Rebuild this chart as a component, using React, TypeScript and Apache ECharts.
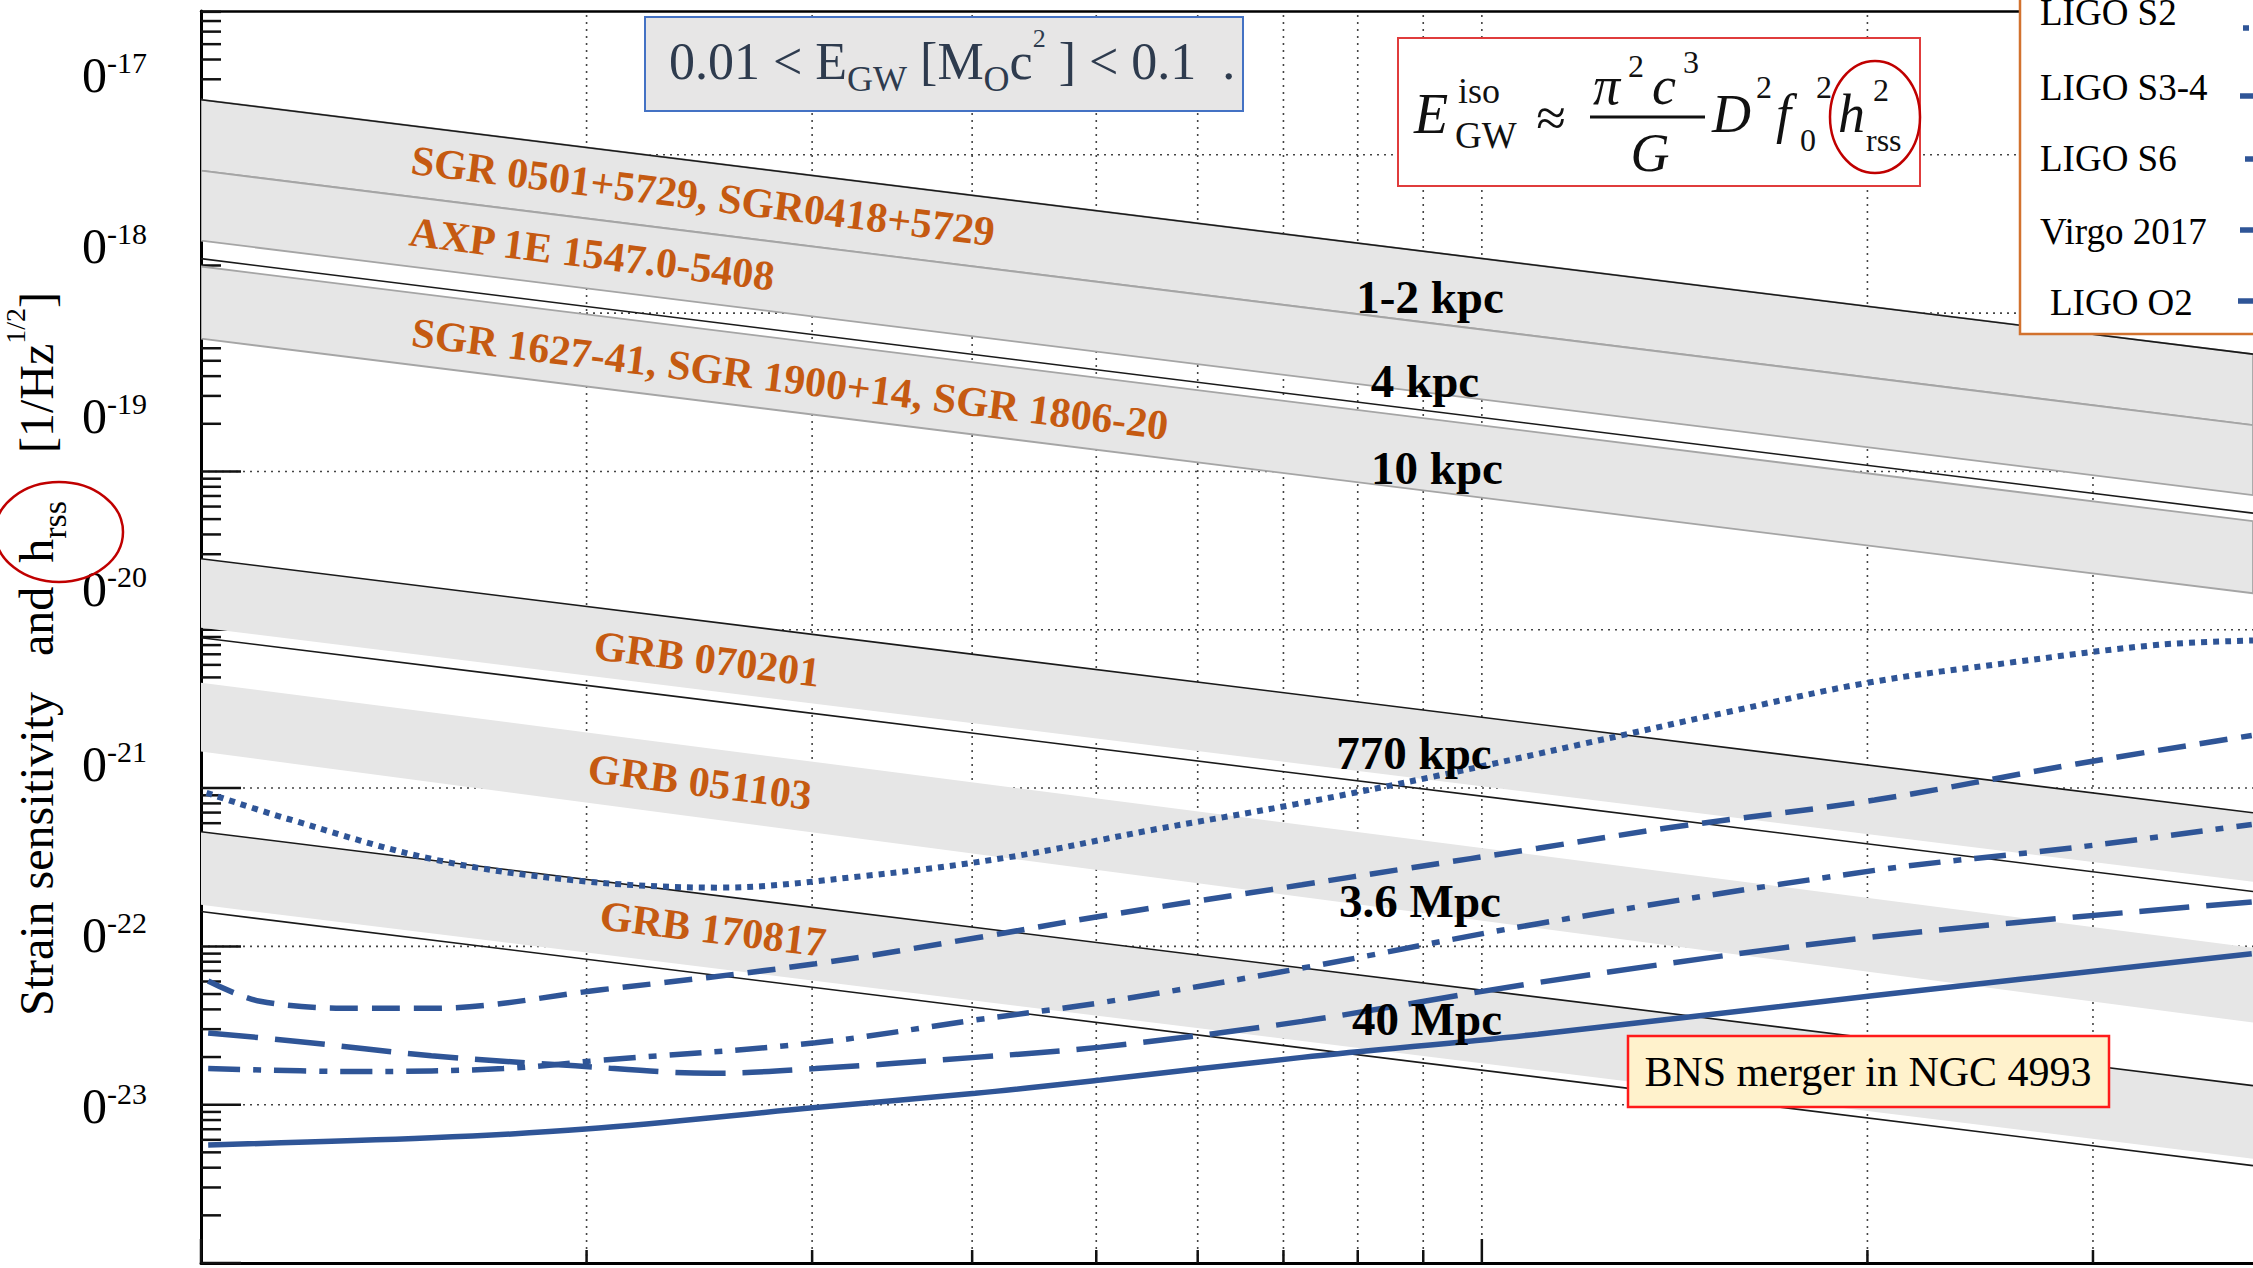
import React, { useEffect, useRef } from "react";
import * as echarts from "echarts";

const WIDTH = 2253;
const HEIGHT = 1268;
const FONT = '"Liberation Serif", "Times New Roman", Times, serif';

// axis extents (frequency in Hz, strain)
const F_MIN = 100;
const F_MAX = 4000;
const H_MIN = 1e-24;
const H_MAX = 8.1e-17;

// tick values
const xTickValues = [100, 200, 300, 400, 500, 600, 700, 800, 900, 1000, 2000, 3000];
const yDecadeExponents = [-24, -23, -22, -21, -20, -19, -18, -17];
const yMinorMultipliers = [1, 2, 3, 4, 5, 6, 7, 8, 9];
const yTickExponentLabels = ["-17", "-18", "-19", "-20", "-21", "-22", "-23"];

// detector sensitivity curves: [frequency Hz, strain]
const ligoS2 = [
  [101, 9.33e-22], [116.8, 6.4e-22], [151.3, 3.57e-22], [196, 2.61e-22], [253.9, 2.35e-22],
  [328.8, 2.78e-22], [425.8, 3.64e-22], [551.4, 5.42e-22], [714.4, 7.89e-22], [925.3, 1.2e-21],
  [1198.6, 1.9e-21], [1552.4, 3.01e-21], [2011, 4.66e-21], [2604, 6.25e-21], [3374, 8.03e-21],
  [4000, 8.55e-21],
];
const ligoS34 = [
  [101.3, 6.04e-23], [111.2, 4.5e-23], [133, 4.06e-23], [151.3, 4.06e-23], [205.3, 5.32e-23],
  [301.8, 7.76e-23], [402.3, 1.13e-22], [503.9, 1.55e-22], [723.7, 2.45e-22], [867.6, 3.08e-22],
  [1106, 4.17e-22], [1407.5, 5.65e-22], [2026, 8.4e-22], [2911, 1.42e-21], [3991, 2.15e-21],
];
const ligoS6 = [
  [101.3, 1.69e-23], [133, 1.62e-23], [172.2, 1.69e-23], [205.3, 1.91e-23], [301.8, 2.46e-23],
  [402.3, 3.43e-23], [503.9, 4.41e-23], [723.7, 7.29e-23], [1106, 1.39e-22], [2026, 3.02e-22],
  [2911, 4.22e-22], [3991, 5.89e-22],
];
const virgo2017 = [
  [101.3, 2.84e-23], [119, 2.51e-23], [151.3, 2.04e-23], [196, 1.76e-23], [250.6, 1.58e-23],
  [301.8, 1.69e-23], [402.3, 1.99e-23], [503.9, 2.31e-23], [723.7, 3.36e-23], [1106, 5.91e-23],
  [2026, 1.15e-22], [3991, 1.91e-22],
];
const ligoO2 = [
  [101.3, 5.57e-24], [151.3, 6.18e-24], [199.6, 7.01e-24], [301.8, 9.59e-24], [402.3, 1.18e-23],
  [503.9, 1.43e-23], [723.7, 1.99e-23], [1106, 2.79e-23], [2026, 4.9e-23], [3991, 8.98e-23],
];
const legendNames = ["LIGO S2", "LIGO S3-4", "LIGO S6", "Virgo 2017", "LIGO O2"];

// h ~ 1/f distance lines: [h at F_MIN, h at F_MAX]
const distanceLines = [
  [2.23e-17, 5.51e-19],
  [2.21e-18, 5.45e-20],
  [2.81e-20, 6.99e-22],
  [8.91e-21, 2.22e-22],
  [5.3e-22, 1.32e-23],
  [1.66e-22, 4.12e-24],
];
// source bands: [top at F_MIN, bottom at F_MIN, top at F_MAX, bottom at F_MAX]
const outlinedBands = [
  [2.23e-17, 7.94e-18, 5.51e-19, 1.96e-19],
  [7.94e-18, 2.87e-18, 1.96e-19, 7.09e-20],
  [1.97e-18, 6.9e-19, 4.85e-20, 1.7e-20],
];
const plainBands = [
  [2.81e-20, 1.03e-20, 6.99e-22, 2.56e-22],
  [4.63e-21, 1.7e-21, 9.81e-23, 3.3e-23],
  [5.3e-22, 1.83e-22, 1.32e-23, 4.56e-24],
];
const sourceLabels = [
  "SGR 0501+5729, SGR0418+5729",
  "AXP 1E 1547.0-5408",
  "SGR 1627-41, SGR 1900+14, SGR 1806-20",
  "GRB 070201",
  "GRB 051103",
  "GRB 170817",
];
const distanceLabels = ["1-2 kpc", "4 kpc", "10 kpc", "770 kpc", "3.6 Mpc", "40 Mpc"];

// ---------- layout (pixels) ----------
const sourceLabelPos = [[703, 196], [592, 254], [790, 379], [707, 659], [700, 782], [713, 929]];
const distanceLabelPos = [[1430, 297], [1425, 381], [1437, 468], [1414, 753], [1420, 901], [1427, 1019]];
const yLabelY = [75, 246, 416, 589, 764, 935, 1106];
const legendTextX = [2040, 2040, 2040, 2040, 2050];
const legendTextY = [12, 87, 158, 231, 302];
const legendSampleX = [2243, 2240, 2245, 2240, 2238];
const legendSampleY = [28, 96, 159, 230, 301];

const CURVE_COLOR = "#2F5597";
const ORANGE = "#C55A11";
const curveDashes: any[] = [[6, 6], [28, 14], [32, 13, 8, 13], [50, 17], "solid"];
const curveData = [ligoS2, ligoS34, ligoS6, virgo2017, ligoO2];

function txt(text: string, x: number, y: number, size: number, o: any = {}) {
  return {
    type: "text",
    x,
    y,
    z: 100,
    silent: true,
    rotation: o.rot || 0,
    style: {
      text,
      fontSize: size,
      fontFamily: FONT,
      fontWeight: o.weight || "normal",
      fontStyle: o.fstyle || "normal",
      fill: o.fill || "#000",
      align: o.align || "left",
      verticalAlign: o.va || "middle",
      lineHeight: o.lh,
      rich: o.rich,
    },
  };
}

function buildOption() {
  const yTicks: number[][] = [];
  yDecadeExponents.forEach((n) => {
    yMinorMultipliers.forEach((k) => {
      const v = k * Math.pow(10, n);
      if (v <= H_MAX * 1.0001) yTicks.push([F_MIN, v, k === 1 ? 1 : 0]);
    });
  });

  const bandSeries = (name: string, bands: number[][], outlined: boolean) => ({
    type: "custom",
    name,
    z: 2,
    silent: true,
    coordinateSystem: "cartesian2d",
    clip: true,
    data: bands.map((b) => [F_MIN, b[0], b[1], F_MAX, b[2], b[3]]),
    encode: { x: [0, 3], y: [1, 2, 4, 5] },
    renderItem: (params: any, api: any) => {
      const p1 = api.coord([api.value(0), api.value(1)]);
      const p2 = api.coord([api.value(3), api.value(4)]);
      const p3 = api.coord([api.value(3), api.value(5)]);
      const p4 = api.coord([api.value(0), api.value(2)]);
      return {
        type: "polygon",
        shape: { points: [p1, p2, p3, p4] },
        style: {
          fill: "#E6E6E6",
          stroke: outlined ? "#A5A5A5" : null,
          lineWidth: outlined ? 1.8 : 0,
        },
      };
    },
  });

  const series: any[] = [
    {
      type: "custom",
      name: "xgrid",
      z: 1,
      silent: true,
      coordinateSystem: "cartesian2d",
      clip: false,
      data: xTickValues.map((v) => [v, H_MIN]),
      encode: { x: 0, y: 1 },
      renderItem: (params: any, api: any) => {
        const v = api.value(0);
        const p = api.coord([v, H_MIN]);
        const cs = params.coordSys;
        const bottom = cs.y + cs.height;
        const lg = Math.log10(v);
        const major = Math.abs(lg - Math.round(lg)) < 1e-9;
        const children: any[] = [];
        if (v > F_MIN) {
          children.push({
            type: "line",
            shape: { x1: p[0], y1: bottom, x2: p[0], y2: cs.y },
            style: { stroke: "#444", lineWidth: 1.6, lineDash: [2, 5] },
          });
        }
        children.push({
          type: "line",
          shape: { x1: p[0], y1: bottom, x2: p[0], y2: bottom - (major ? 24 : 13) },
          style: { stroke: "#111", lineWidth: 2.5 },
        });
        return { type: "group", children };
      },
    },
    {
      type: "custom",
      name: "ygrid",
      z: 1,
      silent: true,
      coordinateSystem: "cartesian2d",
      clip: false,
      data: yTicks,
      encode: { x: 0, y: 1 },
      renderItem: (params: any, api: any) => {
        const v = api.value(1);
        const major = api.value(2) === 1;
        const p = api.coord([F_MIN, v]);
        const cs = params.coordSys;
        const children: any[] = [];
        if (major && v > H_MIN * 1.5) {
          children.push({
            type: "line",
            shape: { x1: cs.x, y1: p[1], x2: cs.x + cs.width, y2: p[1] },
            style: { stroke: "#444", lineWidth: 1.6, lineDash: [2, 5] },
          });
        }
        children.push({
          type: "line",
          shape: { x1: cs.x, y1: p[1], x2: cs.x + (major ? 40 : 20), y2: p[1] },
          style: { stroke: "#111", lineWidth: 2.5 },
        });
        return { type: "group", children };
      },
    },
    bandSeries("outlinedBands", outlinedBands, true),
    bandSeries("plainBands", plainBands, false),
  ];

  distanceLines.forEach((l, i) => {
    series.push({
      type: "line",
      name: "distance" + i,
      z: 3,
      silent: true,
      symbol: "none",
      showSymbol: false,
      data: [[F_MIN, l[0]], [F_MAX, l[1]]],
      lineStyle: { color: "#1A1A1A", width: 1.6 },
    });
  });

  curveData.forEach((d, i) => {
    series.push({
      type: "line",
      name: legendNames[i],
      z: 4,
      silent: true,
      symbol: "none",
      showSymbol: false,
      smooth: 0.35,
      data: d,
      lineStyle: { color: CURVE_COLOR, width: i === 0 ? 6 : 5.5, type: curveDashes[i], cap: "butt" },
    });
  });

  const g: any[] = [];
  // energy box
  g.push({
    type: "rect",
    z: 100,
    silent: true,
    shape: { x: 645, y: 17, width: 598, height: 94 },
    style: { fill: "#E7E6E6", stroke: "#4472C4", lineWidth: 2 },
  });
  g.push(
    txt("0.01 < E{sub|GW} [M{sub|O}c{sup|2} ] < 0.1  .", 669, 61, 52, {
      fill: "#2E3B4E",
      lh: 72,
      rich: {
        sub: { fontSize: 36, fontFamily: FONT, fill: "#2E3B4E", verticalAlign: "bottom", lineHeight: 36 },
        sup: { fontSize: 26, fontFamily: FONT, fill: "#2E3B4E", verticalAlign: "top", lineHeight: 54 },
      },
    })
  );
  // formula box
  g.push({
    type: "rect",
    z: 100,
    silent: true,
    shape: { x: 1398, y: 38, width: 522, height: 148 },
    style: { fill: "#fff", stroke: "#E03C3C", lineWidth: 2 },
  });
  const fc = "#111";
  g.push(txt("E", 1414, 114, 56, { fstyle: "italic", fill: fc }));
  g.push(txt("iso", 1458, 91, 36, { fill: fc }));
  g.push(txt("GW", 1455, 135, 37, { fill: fc }));
  g.push(txt("\u2248", 1551, 118, 54, { align: "center", fill: fc }));
  g.push(txt("\u03c0", 1593, 86, 54, { fstyle: "italic", fill: fc }));
  g.push(txt("2", 1628, 66, 32, { fill: fc }));
  g.push(txt("c", 1652, 86, 54, { fstyle: "italic", fill: fc }));
  g.push(txt("3", 1683, 62, 32, { fill: fc }));
  g.push({
    type: "line",
    z: 100,
    silent: true,
    shape: { x1: 1590, y1: 117, x2: 1705, y2: 117 },
    style: { stroke: fc, lineWidth: 3 },
  });
  g.push(txt("G", 1650, 153, 54, { fstyle: "italic", align: "center", fill: fc }));
  g.push(txt("D", 1712, 114, 54, { fstyle: "italic", fill: fc }));
  g.push(txt("2", 1756, 87, 32, { fill: fc }));
  g.push(txt("f", 1776, 114, 54, { fstyle: "italic", fill: fc }));
  g.push(txt("0", 1800, 140, 32, { fill: fc }));
  g.push(txt("2", 1816, 87, 32, { fill: fc }));
  g.push(txt("h", 1838, 114, 54, { fstyle: "italic", fill: fc }));
  g.push(txt("2", 1873, 90, 32, { fill: fc }));
  g.push(txt("rss", 1866, 140, 32, { fill: fc }));
  g.push({
    type: "ellipse",
    z: 101,
    silent: true,
    shape: { cx: 1875, cy: 117, rx: 45, ry: 56 },
    style: { fill: null, stroke: "#C00000", lineWidth: 2.5 },
  });

  // legend (cropped)
  g.push({
    type: "rect",
    z: 100,
    silent: true,
    shape: { x: 2020, y: -10, width: 260, height: 344 },
    style: { fill: "#fff", stroke: "#D2722E", lineWidth: 2.5 },
  });
  legendNames.forEach((n, i) => {
    g.push(txt(n, legendTextX[i], legendTextY[i], 37));
    g.push({
      type: "line",
      z: 101,
      silent: true,
      shape: { x1: legendSampleX[i], y1: legendSampleY[i], x2: legendSampleX[i] + 70, y2: legendSampleY[i] },
      style: {
        stroke: CURVE_COLOR,
        lineWidth: 5.5,
        lineDash: curveDashes[i] === "solid" ? null : curveDashes[i],
      },
    });
  });

  // BNS box
  g.push({
    type: "rect",
    z: 100,
    silent: true,
    shape: { x: 1628, y: 1036, width: 481, height: 71 },
    style: { fill: "#FFF2CC", stroke: "#FF1A1A", lineWidth: 2.5 },
  });
  g.push(txt("BNS merger in NGC 4993", 1868, 1072, 42, { align: "center" }));

  // y axis title
  g.push(
    txt("Strain sensitivity   and  h{sub|rss}    [1/Hz{sup|1/2}]", 36, 654, 48, {
      rot: Math.PI / 2,
      align: "center",
      lh: 70,
      rich: {
        sub: { fontSize: 34, fontFamily: FONT, verticalAlign: "bottom", lineHeight: 34, fill: "#000" },
        sup: { fontSize: 28, fontFamily: FONT, verticalAlign: "top", lineHeight: 63, fill: "#000" },
      },
    })
  );
  g.push({
    type: "ellipse",
    z: 101,
    silent: true,
    shape: { cx: 59, cy: 532, rx: 64, ry: 50 },
    style: { fill: null, stroke: "#C00000", lineWidth: 2.5 },
  });

  // y tick labels (cropped "10^-n")
  yTickExponentLabels.forEach((e, i) => {
    g.push(
      txt("0{s|" + e + "}", 82, yLabelY[i], 50, {
        lh: 56,
        rich: { s: { fontSize: 30, fontFamily: FONT, verticalAlign: "top", lineHeight: 30, fill: "#000" } },
      })
    );
  });

  // source labels
  sourceLabels.forEach((s, i) => {
    g.push(
      txt(s, sourceLabelPos[i][0], sourceLabelPos[i][1], 42, {
        weight: "bold",
        fill: ORANGE,
        align: "center",
        rot: -0.123,
      })
    );
  });
  distanceLabels.forEach((s, i) => {
    g.push(txt(s, distanceLabelPos[i][0], distanceLabelPos[i][1], 47, { weight: "bold", align: "center" }));
  });

  return {
    animation: false,
    backgroundColor: "#fff",
    grid: { left: 201, right: 0, top: 11, bottom: 5, containLabel: false, outerBoundsMode: "none" },
    xAxis: [
      {
        type: "log",
        logBase: 10,
        min: F_MIN,
        max: F_MAX,
        position: "bottom",
        axisLine: { show: true, onZero: false, lineStyle: { color: "#000", width: 3 } },
        axisTick: { show: false },
        axisLabel: { show: false },
        splitLine: { show: false },
      },
      {
        type: "log",
        logBase: 10,
        min: F_MIN,
        max: F_MAX,
        position: "top",
        axisLine: { show: true, onZero: false, lineStyle: { color: "#000", width: 2.5 } },
        axisTick: { show: false },
        axisLabel: { show: false },
        splitLine: { show: false },
      },
    ],
    yAxis: {
      type: "log",
      logBase: 10,
      min: H_MIN,
      max: H_MAX,
      axisLine: { show: true, onZero: false, lineStyle: { color: "#000", width: 3 } },
      axisTick: { show: false },
      axisLabel: { show: false },
      splitLine: { show: false },
    },
    series,
    graphic: { elements: g },
  };
}

export default function App() {
  const ref = useRef<HTMLDivElement>(null);
  useEffect(() => {
    if (!ref.current) return;
    const chart = echarts.init(ref.current, null, { renderer: "svg" });
    chart.setOption(buildOption() as any);
    return () => chart.dispose();
  }, []);
  return (
    <div
      ref={ref}
      style={{ position: "fixed", left: 0, top: 0, width: WIDTH, height: HEIGHT, background: "#fff" }}
    />
  );
}
